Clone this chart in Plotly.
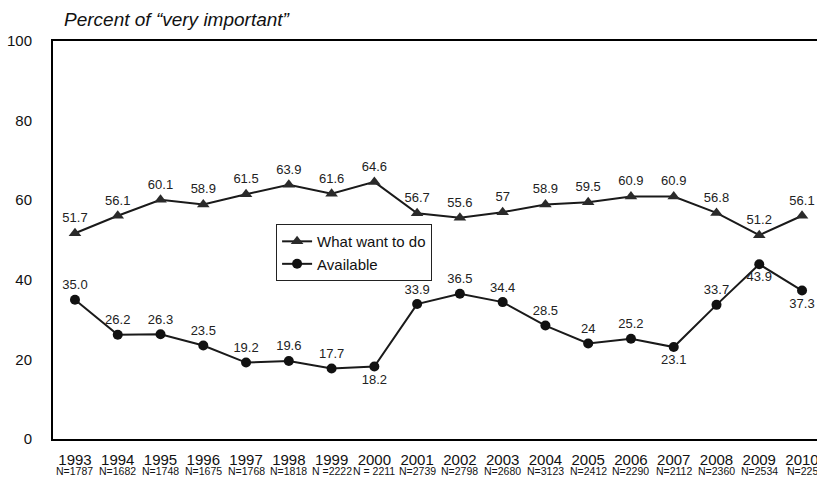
import plotly.graph_objects as go

years = [1993, 1994, 1995, 1996, 1997, 1998, 1999, 2000, 2001, 2002,
         2003, 2004, 2005, 2006, 2007, 2008, 2009, 2010]
n_labels = ["N=1787", "N=1682", "N=1748", "N=1675", "N=1768", "N=1818",
            "N =2222", "N = 2211", "N=2739", "N=2798", "N=2680", "N=3123",
            "N=2412", "N=2290", "N=2112", "N=2360", "N=2534", "N=225"]
want = [51.7, 56.1, 60.1, 58.9, 61.5, 63.9, 61.6, 64.6, 56.7, 55.6,
        57, 58.9, 59.5, 60.9, 60.9, 56.8, 51.2, 56.1]
want_text = ["51.7", "56.1", "60.1", "58.9", "61.5", "63.9", "61.6", "64.6",
             "56.7", "55.6", "57", "58.9", "59.5", "60.9", "60.9", "56.8",
             "51.2", "56.1"]
avail = [35.0, 26.2, 26.3, 23.5, 19.2, 19.6, 17.7, 18.2, 33.9, 36.5,
         34.4, 28.5, 24, 25.2, 23.1, 33.7, 43.9, 37.3]
avail_text = ["35.0", "26.2", "26.3", "23.5", "19.2", "19.6", "17.7", "18.2",
              "33.9", "36.5", "34.4", "28.5", "24", "25.2", "23.1", "33.7",
              "43.9", "37.3"]
avail_below = {2000, 2007, 2009, 2010}
y_ticks = [0, 20, 40, 60, 80, 100]

FONT = "Liberation Sans, Arial, sans-serif"
ink = "#1a1a1a"

fig = go.Figure()
fig.add_trace(go.Scatter(
    x=years, y=want, name="What want to do", mode="lines+markers+text",
    text=want_text, textposition="top center",
    textfont=dict(size=13, color="#222", family=FONT),
    line=dict(color=ink, width=2),
    marker=dict(symbol="triangle-up", size=11, color="#2a2a2a"),
    cliponaxis=False,
))
fig.add_trace(go.Scatter(
    x=years, y=avail, name="Available", mode="lines+markers+text",
    text=avail_text,
    textposition=["bottom center" if yr in avail_below else "top center" for yr in years],
    textfont=dict(size=13, color="#222", family=FONT),
    line=dict(color=ink, width=2),
    marker=dict(symbol="circle", size=10, color="#111"),
    cliponaxis=False,
))

annotations = [dict(text="<i>Percent of \u201cvery important\u201d</i>",
                    xref="paper", yref="paper", x=0.0118, y=1.053,
                    xanchor="left", yanchor="middle", showarrow=False,
                    font=dict(size=19, family=FONT, color="#111"))]
for yr, n in zip(years, n_labels):
    annotations.append(dict(text=n, x=yr, xref="x", y=-0.081, yref="paper",
                            xanchor="center", yanchor="middle", showarrow=False,
                            font=dict(size=10.5, family=FONT, color="#111")))

fig.update_layout(
    width=817, height=478,
    margin=dict(l=53, r=0, t=41, b=39),
    paper_bgcolor="white", plot_bgcolor="white",
    font=dict(family=FONT, color="#111"),
    showlegend=True,
    legend=dict(x=0.292, y=0.54, xanchor="left", yanchor="top",
                bgcolor="white", bordercolor="#222", borderwidth=1,
                font=dict(size=15, family=FONT, color="#111"),
                itemwidth=30, tracegroupgap=0),
    xaxis=dict(range=[1993 - 0.514, 2010.35], tickmode="array", tickvals=years,
               ticktext=[str(y) for y in years],
               tickfont=dict(size=15, family=FONT, color="#111"),
               showline=True, linecolor="#000", linewidth=2, mirror=True,
               showgrid=False, zeroline=False, ticks="", automargin=False,
               ticklabelstandoff=6, ticklabeloverflow="allow"),
    yaxis=dict(range=[0, 100], tickmode="array", tickvals=y_ticks,
               tickfont=dict(size=15, family=FONT, color="#111"),
               showline=True, linecolor="#000", linewidth=2,
               showgrid=False, zeroline=False, ticks="", ticklabelstandoff=16,
               automargin=False),
    annotations=annotations,
)

fig.write_html("out.html", config={"displayModeBar": False},
               post_script="document.body.style.margin='0';document.body.style.overflow='hidden';")
